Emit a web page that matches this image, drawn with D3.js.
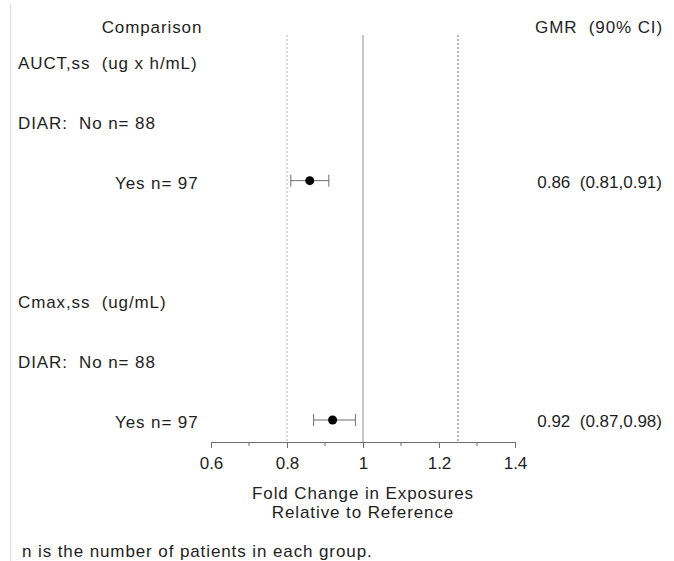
<!DOCTYPE html>
<html>
<head>
<meta charset="utf-8">
<script src="https://cdn.jsdelivr.net/npm/d3@7"></script>
<style>
  html, body { margin: 0; padding: 0; background: #fff; }
  svg text { font-family: "Liberation Sans", Arial, sans-serif; fill: #1e1e1e; white-space: pre; }
  svg text.lbl { letter-spacing: 0.9px; }
</style>
</head>
<body>
<svg id="chart" width="674" height="561"></svg>
<script>
// Forest plot rows: labels, indent level, and geometric mean ratio with 90% CI
const rowLabels = ["AUCT,ss  (ug x h/mL)", "DIAR:  No n= 88", "Yes n= 97", "", "Cmax,ss  (ug/mL)", "DIAR:  No n= 88", "Yes n= 97"];
const rowIndent = [0, 0, 1, 0, 0, 0, 1];
const gmr   = [null, null, 0.86, null, null, null, 0.92];
const ciLow = [null, null, 0.81, null, null, null, 0.87];
const ciHigh= [null, null, 0.91, null, null, null, 0.98];

const xTicks = [0.6, 0.8, 1, 1.2, 1.4];
const xMinorTicks = [0.7, 0.9, 1.1, 1.3];
const refLines = [
  { value: 0.8,  style: "dotted" },
  { value: 1.0,  style: "solid" },
  { value: 1.25, style: "dashed" }
];
const headers = { left: "Comparison", right: "GMR  (90% CI)" };
const axisTitle = ["Fold Change in Exposures", "Relative to Reference"];
const footnote = "n is the number of patients in each group.";

const svg = d3.select("#chart");
const fontSize = 17;

const x = d3.scaleLinear().domain([0.6, 1.4]).range([211, 515]);
const y = d3.scalePoint().domain(d3.range(rowLabels.length)).range([61, 420]);
const axisY = 442;
const plotTop = 35;
const labelShift = 2;

// faint frame line on the left
svg.append("line")
  .attr("x1", 10.5).attr("x2", 10.5).attr("y1", 4).attr("y2", 561)
  .attr("stroke", "#dcdcdc").attr("stroke-width", 1);

// reference lines
const refStyle = {
  dotted: { stroke: "#b0b0b0", width: 1, dash: "2,2" },
  solid:  { stroke: "#c8c8c8", width: 2, dash: null },
  dashed: { stroke: "#707070", width: 1, dash: "2,2" }
};
svg.append("g").selectAll("line").data(refLines).join("line")
  .attr("x1", d => x(d.value)).attr("x2", d => x(d.value))
  .attr("y1", plotTop).attr("y2", axisY)
  .attr("stroke", d => refStyle[d.style].stroke)
  .attr("stroke-width", d => refStyle[d.style].width)
  .attr("stroke-dasharray", d => refStyle[d.style].dash);

// headers
svg.append("text").attr("class", "lbl").attr("x", 152).attr("y", 27).attr("dy", "0.35em")
  .attr("text-anchor", "middle").attr("font-size", fontSize).text(headers.left);
svg.append("text").attr("class", "lbl").attr("x", 663).attr("y", 27).attr("dy", "0.35em")
  .attr("text-anchor", "end").attr("font-size", fontSize).text(headers.right);

// row labels
svg.append("g").selectAll("text").data(rowLabels).join("text")
  .attr("class", "lbl")
  .attr("x", (d, i) => rowIndent[i] ? 115 : 18)
  .attr("y", (d, i) => y(i) + labelShift).attr("dy", "0.35em")
  .attr("font-size", fontSize).text(d => d);

// estimates
const est = d3.range(rowLabels.length).filter(i => gmr[i] != null);
const capH = 6;
const eg = svg.append("g");
eg.selectAll("line.ci").data(est).join("line").attr("class", "ci")
  .attr("x1", i => x(ciLow[i])).attr("x2", i => x(ciHigh[i]))
  .attr("y1", i => y(i)).attr("y2", i => y(i))
  .attr("stroke", "#6e6e6e").attr("stroke-width", 1);
eg.selectAll("line.capl").data(est).join("line").attr("class", "capl")
  .attr("x1", i => x(ciLow[i])).attr("x2", i => x(ciLow[i]))
  .attr("y1", i => y(i) - capH).attr("y2", i => y(i) + capH)
  .attr("stroke", "#6e6e6e").attr("stroke-width", 1);
eg.selectAll("line.caph").data(est).join("line").attr("class", "caph")
  .attr("x1", i => x(ciHigh[i])).attr("x2", i => x(ciHigh[i]))
  .attr("y1", i => y(i) - capH).attr("y2", i => y(i) + capH)
  .attr("stroke", "#6e6e6e").attr("stroke-width", 1);
eg.selectAll("circle").data(est).join("circle")
  .attr("cx", i => x(gmr[i])).attr("cy", i => y(i)).attr("r", 4.5)
  .attr("fill", "#000");

// GMR text column
svg.append("g").selectAll("text").data(est).join("text")
  .attr("x", 662).attr("y", i => y(i) + 1).attr("dy", "0.35em")
  .attr("text-anchor", "end").attr("font-size", fontSize)
  .text(i => `${gmr[i].toFixed(2)}  (${ciLow[i].toFixed(2)},${ciHigh[i].toFixed(2)})`);

// x axis
const axis = svg.append("g").attr("transform", `translate(0,${axisY})`);
axis.call(d3.axisBottom(x).tickValues(xTicks).tickFormat(d3.format("")).tickSizeInner(6).tickSizeOuter(0));
axis.select(".domain").attr("stroke", "#6e6e6e");
axis.selectAll(".tick line").attr("stroke", "#6e6e6e");
axis.selectAll(".tick text").attr("font-size", fontSize).attr("y", 21).attr("dy", "0.35em")
  .style("font-family", '"Liberation Sans", Arial, sans-serif').attr("fill", "#1e1e1e");
axis.append("g").selectAll("line").data(xMinorTicks).join("line")
  .attr("x1", d => x(d)).attr("x2", d => x(d)).attr("y1", 0).attr("y2", 4)
  .attr("stroke", "#6e6e6e");

// axis title
svg.append("g").selectAll("text").data(axisTitle).join("text")
  .attr("class", "lbl")
  .attr("x", x(1)).attr("y", (d, i) => 493 + i * 19).attr("dy", "0.35em")
  .attr("text-anchor", "middle").attr("font-size", fontSize).text(d => d);

// footnote
svg.append("text").attr("class", "lbl").attr("x", 22).attr("y", 551).attr("dy", "0.35em")
  .attr("font-size", fontSize).text(footnote);
</script>
</body>
</html>
